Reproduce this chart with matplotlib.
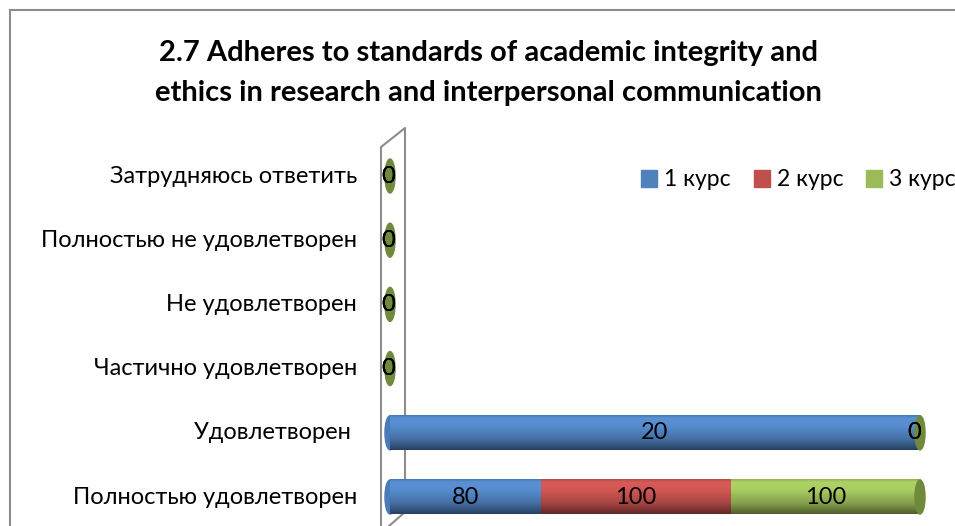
import numpy as np
import matplotlib
matplotlib.use("Agg")
import matplotlib.pyplot as plt
from matplotlib.patches import Ellipse, Patch
from matplotlib.lines import Line2D
from matplotlib.colors import to_rgb

plt.rcParams['font.family'] = ['Lato', 'DejaVu Sans']

title = "2.7 Adheres to standards of academic integrity and\nethics in research and interpersonal communication"
categories = ["Полностью удовлетворен", "Удовлетворен ", "Частично удовлетворен",
              "Не удовлетворен", "Полностью не удовлетворен", "Затрудняюсь ответить"]
series_names = ["1 курс", "2 курс", "3 курс"]
course1 = [80, 20, 0, 0, 0, 0]
course2 = [100, 0, 0, 0, 0, 0]
course3 = [100, 0, 0, 0, 0, 0]
colors = ["#4F81BD", "#C0504D", "#9BBB59"]
cap_color = "#6F8A3A"

W, H = 955, 526
fig = plt.figure(figsize=(W / 100, H / 100), dpi=100)

FS = 17

fig.add_artist(Line2D([10 / W, 10 / W], [0, 1 - 10 / H], color="#8c8c8c", lw=1.5))
fig.add_artist(Line2D([10 / W, 1], [1 - 10 / H, 1 - 10 / H], color="#8c8c8c", lw=1.5))

fig.text(488 / W, 1 - 73 / H, title, ha="center", va="center", fontsize=21,
         fontweight="bold", linespacing=1.7)

ax_left, ax_right = 390, 920
ax = fig.add_axes([ax_left / W, 0, (ax_right - ax_left) / W, 396 / H])
ylo, yhi = -29 / 64.2, 5 + 46 / 64.2
ax.set_xlim(0, 100)
ax.set_ylim(ylo, yhi)
ax.axis("off")
ax.patch.set_alpha(0)

def px(x, y):
    return (x / W, 1 - y / H)
pts = [(381, 530), (381, 147), (405, 128), (405, 512), (389, 526)]
fig.add_artist(Line2D([px(*p)[0] for p in pts], [px(*p)[1] for p in pts],
                      color="#8c8c8c", lw=1.5, zorder=0))

bar_h = 0.53
cap_w = 1.9

def gradient(col, n=64):
    c = np.array(to_rgb(col))
    t = np.linspace(0, 1, n)
    f = np.interp(t, [0, 0.08, 0.3, 0.7, 1.0], [0.95, 1.12, 1.1, 0.85, 0.5])
    img = np.clip(c[None, :] * f[:, None], 0, 1)
    return img[:, None, :]

data = np.array([course1, course2, course3], dtype=float)
totals = data.sum(axis=0)
pct = np.where(totals > 0, data / np.where(totals > 0, totals, 1) * 100, 0)

for i, cat in enumerate(categories):
    left = 0.0
    if totals[i] > 0:
        ax.add_patch(Ellipse((0, i), cap_w, bar_h, color="#4a7bb7", zorder=1, clip_on=False))
    for s in range(3):
        w = pct[s, i]
        if w > 0:
            im = ax.imshow(gradient(colors[s]), extent=[left, left + w, i - bar_h / 2, i + bar_h / 2],
                           aspect="auto", zorder=2, interpolation="bilinear")
            im.set_clip_on(False)
        left += w
    ax.add_patch(Ellipse((left, i), cap_w, bar_h, color=cap_color, zorder=3, clip_on=False))
    left = 0.0
    for s in range(3):
        w = pct[s, i]
        val = int(data[s, i])
        if w > 0:
            ax.text(left + w / 2, i, str(val), ha="center", va="center", fontsize=FS, zorder=5)
        else:
            xpos = left - 1.2 if left > 50 else left - 0.4
            ax.text(xpos, i, str(val), ha="center", va="center", fontsize=FS, zorder=5)
        left += w

ax.set_xlim(0, 100)
ax.set_ylim(ylo, yhi)

for i, cat in enumerate(categories):
    yf = fig.transFigure.inverted().transform(ax.transData.transform((0, i)))[1]
    fig.text(357 / W, yf, cat, ha="right", va="center", fontsize=FS)

handles = [Patch(facecolor=c, edgecolor=c) for c in colors]
fig.legend(handles, series_names, loc="center left", bbox_to_anchor=(632 / W, 1 - 180 / H),
           ncol=3, frameon=False, fontsize=16.5, handlelength=0.7, handleheight=0.7,
           handletextpad=0.3, columnspacing=1.0, borderaxespad=0)

fig.savefig("out.png", dpi=100)
